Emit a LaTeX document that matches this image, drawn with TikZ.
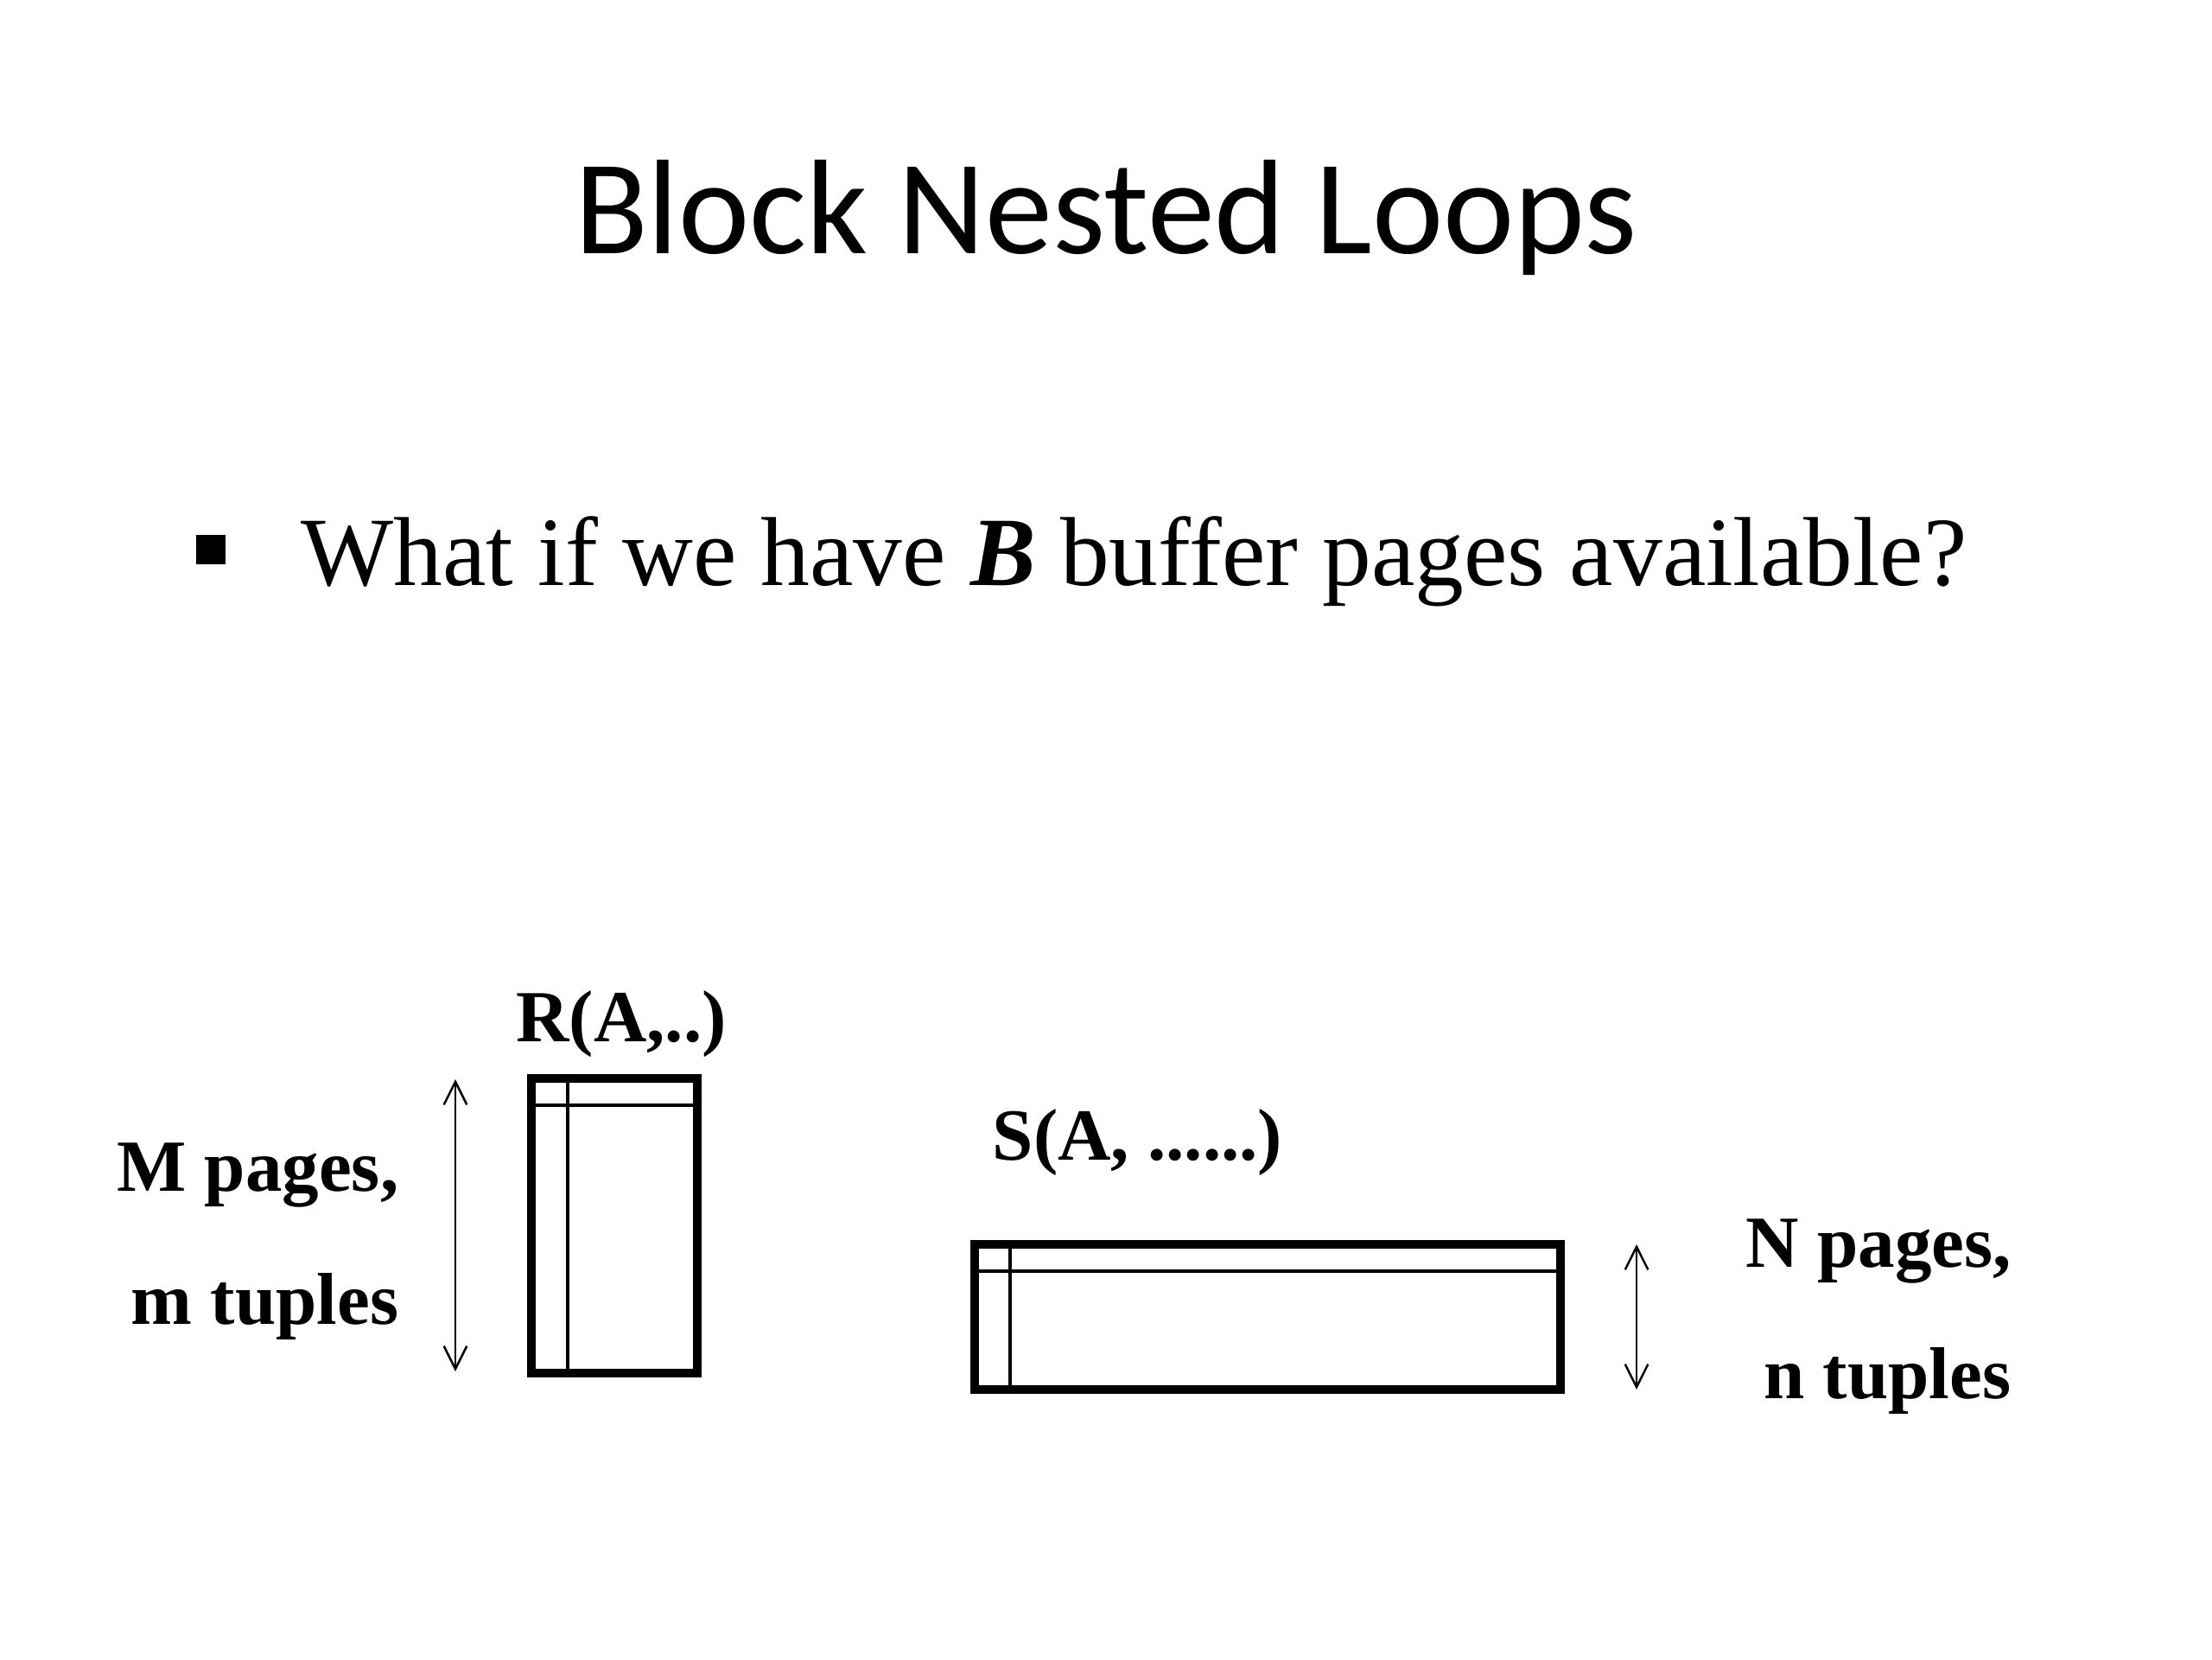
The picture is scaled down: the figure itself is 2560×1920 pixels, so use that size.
\documentclass[tikz,border=0pt]{standalone}
\usepackage{fontspec}
\setmainfont{Liberation Serif}
\newfontfamily\titlefont{Carlito}
\usetikzlibrary{arrows.meta}
\begin{document}
\begin{tikzpicture}[x=0.00992cm,y=-0.00992cm,
  thickbox/.style={line width=2.8pt},
  thinline/.style={line width=1.1pt},
  dimarrow/.style={line width=0.7pt,{Straight Barb[length=7.5pt,width=7.5pt]}-{Straight Barb[length=7.5pt,width=7.5pt]}},
  lbl/.style={inner sep=0pt,font=\fontsize{24}{28}\selectfont\bfseries}]
\fill[white] (0,0) rectangle (2560,1920);
\useasboundingbox (0,0) rectangle (2560,1920);
% title
\node[inner sep=0pt,anchor=base,font=\titlefont\fontsize{44}{52}\selectfont] (title) at (1280,294) {Block Nested Loops};
% bullet
\fill (227,619) rectangle (261,653);
\node[inner sep=0pt,anchor=base west,font=\fontsize{32}{38}\selectfont] (bullet) at (348,677) {What if we have \textbf{\textit{B}} buffer pages available?};
% R relation
\node[lbl,anchor=base] (Rlbl) at (719,1205) {R(A,..)};
\draw[thickbox] (615,1248) rectangle (807,1589);
\draw[thinline] (657,1248) -- (657,1589);
\draw[thinline] (615,1279) -- (807,1279);
\coordinate (Rtop) at (527,1249);
\coordinate (Rbot) at (527,1587);
\draw[dimarrow] (Rtop) -- (Rbot);
\node[lbl,anchor=base east] (Mp) at (462,1378) {M pages,};
\node[lbl,anchor=base east] (mt) at (462,1532) {m tuples};
% S relation
\node[lbl,anchor=base west] (Slbl) at (1148,1342) {S(A, ......)};
\draw[thickbox] (1128,1440) rectangle (1806,1608);
\draw[thinline] (1169,1440) -- (1169,1608);
\draw[thinline] (1128,1471) -- (1806,1471);
\coordinate (Stop) at (1894,1440);
\coordinate (Sbot) at (1894,1608);
\draw[dimarrow] (Stop) -- (Sbot);
\node[lbl,anchor=base west] (Np) at (2020,1466) {N pages,};
\node[lbl,anchor=base east] (nt) at (2328,1618) {n tuples};
\end{tikzpicture}
\end{document}
